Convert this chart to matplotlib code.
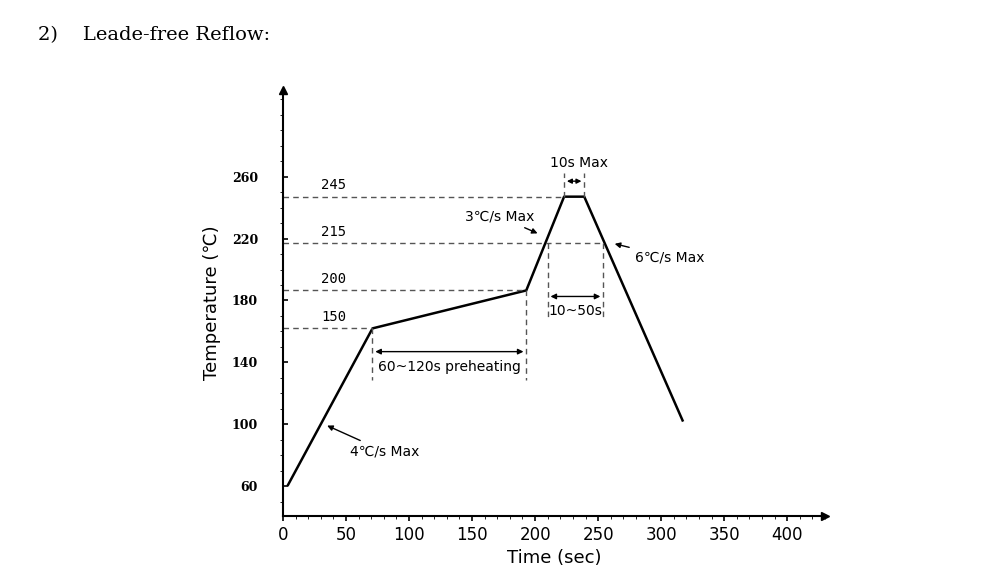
import matplotlib
matplotlib.use("Agg")
import matplotlib.pyplot as plt
from matplotlib.ticker import MultipleLocator

# profile (time s, temperature on axis scale)
t_pts = [4, 71, 193, 223, 239, 317]
T_pts = [61, 162, 186.5, 247, 247, 102.6]
levels = [162, 186.5, 217, 247]
level_labels = ["150", "200", "215", "245"]
level_ends = [71, 193, 254, 223]
yticks = [60, 100, 140, 180, 220, 260]
xticks = [0, 50, 100, 150, 200, 250, 300, 350, 400]

fig = plt.figure(figsize=(10, 5.79), dpi=100)
ax = fig.add_axes([0.283, 0.109, 0.542, 0.736])
ax.set_xlim(0, 430)
ax.set_ylim(41, 316)
for s in ["top", "right"]:
    ax.spines[s].set_visible(False)
ax.spines["left"].set_linewidth(1.5)
ax.spines["bottom"].set_linewidth(1.5)
ax.plot(1, 0, ">k", transform=ax.transAxes, clip_on=False, ms=6)
ax.plot(0, 1, "^k", transform=ax.transAxes, clip_on=False, ms=6)

ax.plot(t_pts, T_pts, color="black", lw=1.8)

dash = dict(color="#555555", lw=1, ls=(0, (4, 3)))
for lv, lab, te in zip(levels, level_labels, level_ends):
    ax.plot([0, te], [lv, lv], **dash)
    ax.text(40, lv + 3, lab, fontsize=10, family="DejaVu Sans Mono", ha="center", va="bottom")

# preheating
ax.plot([71, 71], [162, 129], **dash)
ax.plot([193, 193], [186.5, 129], **dash)
ax.annotate("", xy=(71, 147), xytext=(193, 147), arrowprops=dict(arrowstyle="<|-|>", color="black", lw=1, mutation_scale=8))
ax.text(132, 137, "60~120s preheating", fontsize=10, ha="center", va="center", family="Liberation Sans Narrow")
# 10~50s
ax.plot([210, 210], [217, 168], **dash)
ax.plot([254, 254], [217, 168], **dash)
ax.annotate("", xy=(210, 182.6), xytext=(254, 182.6), arrowprops=dict(arrowstyle="<|-|>", color="black", lw=1, mutation_scale=8))
ax.text(232, 173, "10~50s", fontsize=10, ha="center", va="center", family="Liberation Sans Narrow")
# 10s max
ax.plot([223, 223], [247, 262], **dash)
ax.plot([239, 239], [247, 262], **dash)
ax.annotate("", xy=(223, 257), xytext=(239, 257), arrowprops=dict(arrowstyle="<|-|>", color="black", lw=1, mutation_scale=7))
ax.text(235, 269, "10s Max", fontsize=10, ha="center", va="center", family="Liberation Sans Narrow")
# slopes
ar = dict(arrowstyle="-|>", color="black", lw=1, mutation_scale=8)
ax.annotate("3℃/s Max", xy=(204, 222.6), xytext=(172, 234), fontsize=10, ha="center", va="center", arrowprops=ar, family=["Liberation Sans Narrow", "DejaVu Sans"])
ax.annotate("6℃/s Max", xy=(261, 217), xytext=(279, 208), fontsize=10, ha="left", va="center", arrowprops=ar, family=["Liberation Sans Narrow", "DejaVu Sans"])
ax.annotate("4℃/s Max", xy=(33, 100), xytext=(53, 82.6), fontsize=10, ha="left", va="center", arrowprops=ar, family=["Liberation Sans Narrow", "DejaVu Sans"])

ax.set_xticks(xticks)
ax.xaxis.set_minor_locator(MultipleLocator(10))
ax.set_yticks(yticks)
ax.yaxis.set_minor_locator(MultipleLocator(10))
ax.tick_params(axis="x", labelsize=12, direction="out", width=1.2)
ax.tick_params(axis="y", labelsize=9, direction="in", width=1.2, pad=18)
for lab in ax.get_yticklabels():
    lab.set_family("DejaVu Serif")
    lab.set_fontweight("bold")
ax.set_xlabel("Time (sec)", fontsize=13, labelpad=4)
ax.set_ylabel("Temperature (℃)", fontsize=13, labelpad=8)

fig.text(0.038, 0.94, "2)    Leade-free Reflow:", fontsize=14, family="DejaVu Serif", va="center")
fig.savefig("out.png", dpi=100)
